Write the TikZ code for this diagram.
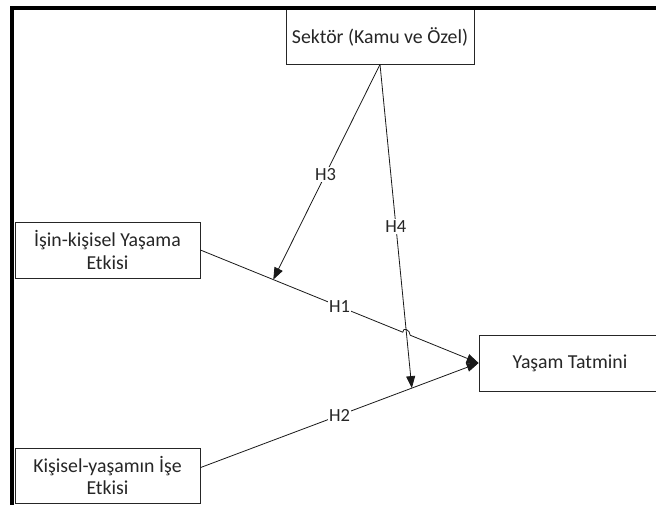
\documentclass[tikz,border=0pt]{standalone}
\usepackage{fontspec}
\setmainfont{Carlito}
\usetikzlibrary{arrows.meta,calc,intersections}
\begin{document}
\begin{tikzpicture}[x=1pt,y=-1pt,
  box/.style={draw=black!85,line width=0.8pt,fill=white,align=center,inner sep=0pt,
    font=\fontsize{19.8}{22.5}\selectfont,text=black!85},
  conn/.style={line width=0.8pt,draw=black!90,-{Triangle[length=12pt,width=9pt]}},
  plain/.style={line width=0.8pt,draw=black!90},
  lab/.style={fill=white,inner sep=1.5pt,font=\fontsize{18.5}{20}\selectfont,text=black!85}]
\useasboundingbox (0,0) rectangle (656,504);
\clip (0,0) rectangle (656,504);
\fill[white] (0,0) rectangle (656,504);
% boxes
\node[box,minimum width=188pt,minimum height=55pt] (sek) at (380,36.5) {Sektör (Kamu ve Özel)};
\node[box,minimum width=185pt,minimum height=56pt] (isin) at (107.5,250) {İşin-kişisel Yaşama\\Etkisi};
\node[box,minimum width=185pt,minimum height=55pt] (kis) at (107.5,475.5) {Kişisel-yaşamın İşe\\Etkisi};
\node[box,minimum width=182pt,minimum height=56pt] (yas) at (570,363) {Yaşam Tatmini};
% connector end points
\coordinate (kisout) at ($(kis.north east)+(0,20)$);
\coordinate (h3end) at ($(isin.east)!0.262!(yas.west)$);
\coordinate (h4end) at ($(kisout)!0.76!(yas.west)$);
% H2
\draw[conn] (kisout) -- (yas.west);
\node[lab] (lh2) at ($(kisout)!0.5!(yas.west)$) {H2};
% H3
\draw[conn] (sek.south) -- (h3end);
\node[lab] (lh3) at ($(sek.south)!0.51!(h3end)$) {H3};
% H4
\path[name path=h1p] (isin.east) -- (yas.west);
\draw[conn,name path=h4p] (sek.south) -- (h4end);
\node[lab] (lh4) at ($(sek.south)!0.5!(h4end)$) {H4};
\path[name intersections={of=h1p and h4p,by=X}];
% H1 with a hop over H4
\coordinate (p1) at ($(X)!4pt!(isin.east)$);
\coordinate (p2) at ($(X)!4pt!(yas.west)$);
\draw[plain] (isin.east) -- (p1) .. controls ($(p1)+(0,-5.5)$) and ($(p2)+(0,-5.5)$) .. (p2);
\draw[conn] (p2) -- (yas.west);
\node[lab] (lh1) at ($(isin.east)!0.5!(yas.west)$) {H1};
% frame
\draw[line width=4pt,black] (11.5,520) -- (11.5,7.5) -- (670,7.5);
\end{tikzpicture}
\end{document}
